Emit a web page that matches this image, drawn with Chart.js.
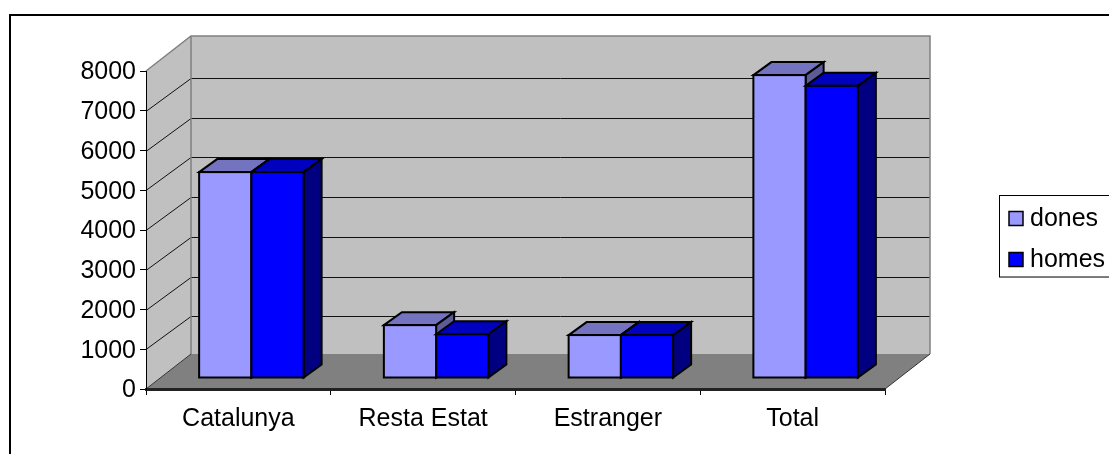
<!DOCTYPE html>
<html>
<head>
<meta charset="utf-8">
<title>dones i homes</title>
<script src="https://cdn.jsdelivr.net/npm/chart.js@4"></script>
<style>
    html, body { margin: 0; padding: 0; background: #fff; overflow: hidden; }
    canvas { display: block; }
</style>
</head>
<body>
<canvas id="miGrafica" width="1109" height="454"></canvas>
<script>
const categories = ["Catalunya", "Resta Estat", "Estranger", "Total"];
const dones = [5180, 1330, 1080, 7620];
const homes = [5180, 1100, 1080, 7350];
const yTicks = [0, 1000, 2000, 3000, 4000, 5000, 6000, 7000, 8000];

const FONT = "Liberation Sans, Arial, sans-serif";

// colors of the fake 3D
const colors = [
    { front: "#9999FF", top: "#7373BF", side: "#5C5C99" },
    { front: "#0000FF", top: "#0000BF", side: "#000080" }
];

// depth of the walls and of the bars
const wallDx = 45, wallDy = 35, gridDy = 33;
const barDx = 18, barDy = 13;
const shiftX = 13, shiftY = 11;
const outline = 2;

function poly(ctx, pts, fill, stroke, width) {
    ctx.beginPath();
    pts.forEach((p, i) => i ? ctx.lineTo(p[0], p[1]) : ctx.moveTo(p[0], p[1]));
    ctx.closePath();
    if (fill) { ctx.fillStyle = fill; ctx.fill(); }
    if (stroke) { ctx.strokeStyle = stroke; ctx.lineWidth = width; ctx.stroke(); }
}

const escena3d = {
    id: "escena3d",
    // frame, walls, floor and grid, behind the axes
    beforeDraw(chart) {
        const ctx = chart.ctx, y = chart.scales.y, a = chart.chartArea;
        const top = y.getPixelForValue(8000), bot = y.getPixelForValue(0);
        ctx.save();
        ctx.strokeStyle = "#000";
        ctx.lineWidth = 2;
        ctx.strokeRect(10, 15, 1200, 600);

        poly(ctx, [[a.left, top], [a.left + wallDx, top - wallDy], [a.left + wallDx, bot - wallDy], [a.left, bot]], "#C0C0C0");
        poly(ctx, [[a.left + wallDx, top - wallDy], [a.right + wallDx, top - wallDy], [a.right + wallDx, bot - wallDy], [a.left + wallDx, bot - wallDy]], "#C0C0C0");

        yTicks.slice(1, -1).forEach(v => {
            const py = Math.round(y.getPixelForValue(v)) + 0.5;
            ctx.beginPath();
            ctx.moveTo(a.left, py);
            ctx.lineTo(a.left + wallDx, py - gridDy);
            ctx.lineTo(a.right + wallDx, py - gridDy);
            ctx.strokeStyle = "#111";
            ctx.lineWidth = 1;
            ctx.stroke();
        });

        poly(ctx, [[a.left, bot], [a.right, bot], [a.right + wallDx, bot - wallDy], [a.left + wallDx, bot - wallDy]], "#808080");

        // wall edges
        ctx.strokeStyle = "#808080";
        ctx.lineWidth = 1.5;
        ctx.beginPath();
        ctx.moveTo(a.left, top);
        ctx.lineTo(a.left + wallDx, top - wallDy);
        ctx.lineTo(a.right + wallDx, top - wallDy);
        ctx.lineTo(a.right + wallDx, bot - wallDy);
        ctx.moveTo(a.left + wallDx, top - wallDy);
        ctx.lineTo(a.left + wallDx, bot - wallDy);
        ctx.stroke();
        ctx.strokeStyle = "#333";
        ctx.lineWidth = 1;
        ctx.beginPath();
        ctx.moveTo(a.right, bot);
        ctx.lineTo(a.right + wallDx, bot - wallDy);
        ctx.moveTo(a.left, bot);
        ctx.lineTo(a.left + wallDx, bot - wallDy);
        ctx.stroke();
        ctx.restore();
    },
    // the library paints datasets last to first, here the later one must cover the earlier one
    beforeDatasetsDraw(chart) {
        const ctx = chart.ctx;
        ctx.save();
        ctx.translate(shiftX, -shiftY);
        ctx.lineJoin = "miter";
        chart.data.datasets.forEach((ds, i) => {
            const c = colors[i], bars = chart.getDatasetMeta(i).data;
            bars.forEach(bar => {
                const l = bar.x - bar.width / 2, r = bar.x + bar.width / 2;
                poly(ctx, [[l, bar.y], [l + barDx, bar.y - barDy], [r + barDx, bar.y - barDy], [r, bar.y]], c.top, "#000", outline);
                poly(ctx, [[r, bar.y], [r + barDx, bar.y - barDy], [r + barDx, bar.base - barDy], [r, bar.base]], c.side, "#000", outline);
            });
            bars.forEach(bar => {
                bar.draw(ctx);
                ctx.strokeStyle = "#000";
                ctx.lineWidth = outline;
                ctx.strokeRect(bar.x - bar.width / 2, bar.y, bar.width, bar.base - bar.y);
            });
        });
        ctx.restore();
        return false;
    },
    // legend box, cut by the right edge like in the picture
    afterDraw(chart) {
        const ctx = chart.ctx;
        ctx.save();
        ctx.fillStyle = "#fff";
        ctx.fillRect(999.5, 195.5, 130, 81.5);
        ctx.strokeStyle = "#000";
        ctx.lineWidth = 1;
        ctx.strokeRect(999.5, 195.5, 130, 81.5);
        ctx.strokeStyle = "#777";
        ctx.beginPath();
        ctx.moveTo(999, 277.5);
        ctx.lineTo(1109, 277.5);
        ctx.stroke();
        chart.data.datasets.forEach((ds, i) => {
            const boxY = 211.5 + i * 41;
            ctx.fillStyle = ds.backgroundColor;
            ctx.strokeStyle = "#000";
            ctx.lineWidth = 1.5;
            ctx.fillRect(1009, boxY, 14, 14);
            ctx.strokeRect(1009, boxY, 14, 14);
            ctx.fillStyle = "#000";
            ctx.font = "25px " + FONT;
            ctx.textBaseline = "alphabetic";
            ctx.textAlign = "left";
            ctx.fillText(ds.label, 1030, 226 + i * 41);
        });
        ctx.restore();
    }
};

const ctx = document.getElementById("miGrafica").getContext("2d");
new Chart(ctx, {
    type: "bar",
    data: {
        labels: categories,
        datasets: [
            { label: "dones", data: dones, backgroundColor: colors[0].front, borderWidth: 0 },
            { label: "homes", data: homes, backgroundColor: colors[1].front, borderWidth: 0 }
        ]
    },
    options: {
        responsive: false,
        animation: false,
        categoryPercentage: 0.5656,
        barPercentage: 1,
        layout: { padding: { top: 71, right: 224, bottom: 0, left: 0 } },
        plugins: {
            legend: { display: false },
            tooltip: { enabled: false }
        },
        scales: {
            x: {
                grid: { drawOnChartArea: false, tickLength: 6, color: "#000", tickWidth: 1 },
                border: { color: "#222", width: 3 },
                ticks: { color: "#000", font: { family: FONT, size: 25 }, padding: 9, maxRotation: 0 },
                afterFit(scale) { scale.height = 65; }
            },
            y: {
                min: 0,
                max: 8000,
                afterBuildTicks(scale) { scale.ticks = yTicks.map(v => ({ value: v })); },
                grid: { drawOnChartArea: false, tickLength: 6, color: "#000", tickWidth: 1 },
                border: { color: "#000", width: 1 },
                ticks: { color: "#000", font: { family: FONT, size: 25 }, padding: 4, labelOffset: 1.5, callback: v => String(v) },
                afterFit(scale) { scale.width = 146; }
            }
        }
    },
    plugins: [escena3d]
});
</script>
</body>
</html>
